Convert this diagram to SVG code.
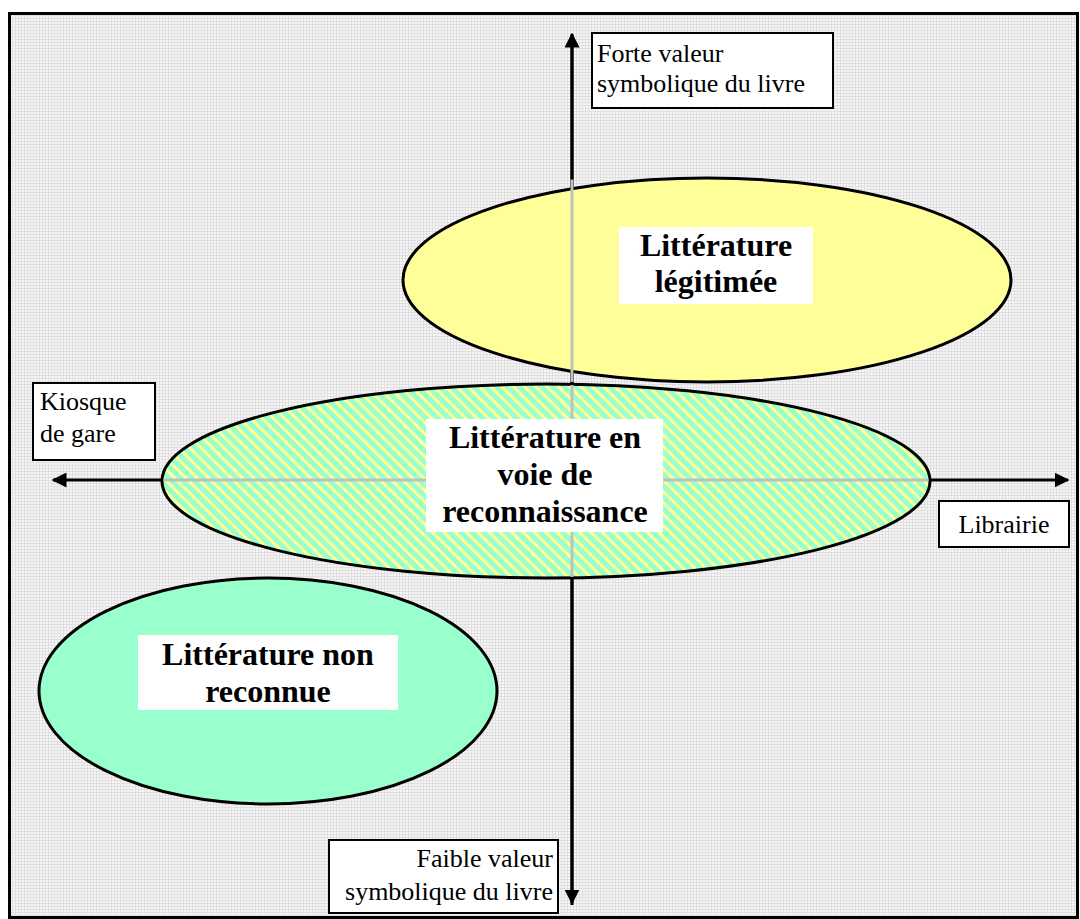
<svg xmlns="http://www.w3.org/2000/svg" width="1080" height="919" viewBox="0 0 1080 919">
<style>
.lbl{font-family:"Liberation Serif","Times New Roman",serif;font-size:26px;fill:#000}
.big{font-family:"Liberation Serif","Times New Roman",serif;font-size:32px;font-weight:bold;fill:#000;text-anchor:middle}
.box{fill:#fff;stroke:#000;stroke-width:2}
.tbox{fill:#fff}
.ell{stroke:#000;stroke-width:3}
.axis{stroke:#000;stroke-width:3;fill:none}
.grey{stroke:#c0c0c0;stroke-width:3}
</style>
<defs>
<pattern id="grid" width="3" height="3" patternUnits="userSpaceOnUse">
<rect width="3" height="3" fill="#f7f7f7"/>
<path d="M0 0.5H3M0.5 0V3" stroke="#e0e0e0" stroke-width="1"/>
</pattern>
<pattern id="hatch" width="8" height="8" patternUnits="userSpaceOnUse" patternTransform="rotate(-45)">
<rect width="8" height="8" fill="#99ffcc"/>
<rect width="3" height="8" fill="#ffff99"/>
</pattern>
<marker id="ah" viewBox="0 0 10 10" refX="9" refY="5" markerWidth="5" markerHeight="5" orient="auto" markerUnits="strokeWidth">
<path d="M0 0L10 5L0 10z" fill="#000"/>
</marker>
</defs>
<rect x="9.5" y="13.5" width="1068" height="904" fill="url(#grid)" stroke="#000" stroke-width="3"/>
<g id="connectors">
<line class="axis" x1="572" y1="905" x2="572" y2="34" marker-end="url(#ah)"/>
<line class="axis" x1="572" y1="40" x2="572" y2="903" marker-end="url(#ah)"/>
<line class="axis" x1="600" y1="480" x2="53" y2="480" marker-end="url(#ah)"/>
<line class="axis" x1="560" y1="480" x2="1068" y2="480" marker-end="url(#ah)"/>
</g>
<g id="legitimee">
<ellipse class="ell" cx="707" cy="280" rx="304" ry="102" fill="#ffff99"/>
<line class="grey" x1="572" y1="179.5" x2="572" y2="382"/>
<rect class="tbox" x="619" y="227" width="194" height="77"/>
<text class="big" x="716" y="256">Littérature</text>
<text class="big" x="716" y="292">légitimée</text>
</g>
<g id="voie">
<ellipse class="ell" cx="546" cy="481" rx="384" ry="97" fill="url(#hatch)"/>
<line class="grey" x1="572" y1="385" x2="572" y2="577"/>
<line class="grey" x1="163.5" y1="480" x2="928.5" y2="480"/>
<rect class="tbox" x="426" y="419" width="237" height="113"/>
<text class="big" x="545" y="448">Littérature en</text>
<text class="big" x="545" y="485">voie de</text>
<text class="big" x="545" y="522">reconnaissance</text>
</g>
<g id="nonreconnue">
<ellipse class="ell" cx="268" cy="691" rx="229" ry="113" fill="#99ffcc"/>
<rect class="tbox" x="138" y="635" width="260" height="75"/>
<text class="big" x="268" y="665">Littérature non</text>
<text class="big" x="268" y="702">reconnue</text>
</g>
<g id="forte">
<rect class="box" x="592" y="33" width="241" height="75"/>
<text class="lbl" x="597" y="62">Forte valeur</text>
<text class="lbl" x="597" y="92">symbolique du livre</text>
</g>
<g id="kiosque">
<rect class="box" x="33" y="383" width="122" height="77"/>
<text class="lbl" x="40" y="410">Kiosque</text>
<text class="lbl" x="40" y="442">de gare</text>
</g>
<g id="librairie">
<rect class="box" x="939" y="501" width="130" height="46"/>
<text class="lbl" x="1004" y="533" text-anchor="middle">Librairie</text>
</g>
<g id="faible">
<rect class="box" x="329" y="840" width="229" height="73"/>
<text class="lbl" x="553" y="867" text-anchor="end">Faible valeur</text>
<text class="lbl" x="553" y="900" text-anchor="end">symbolique du livre</text>
</g>
</svg>
